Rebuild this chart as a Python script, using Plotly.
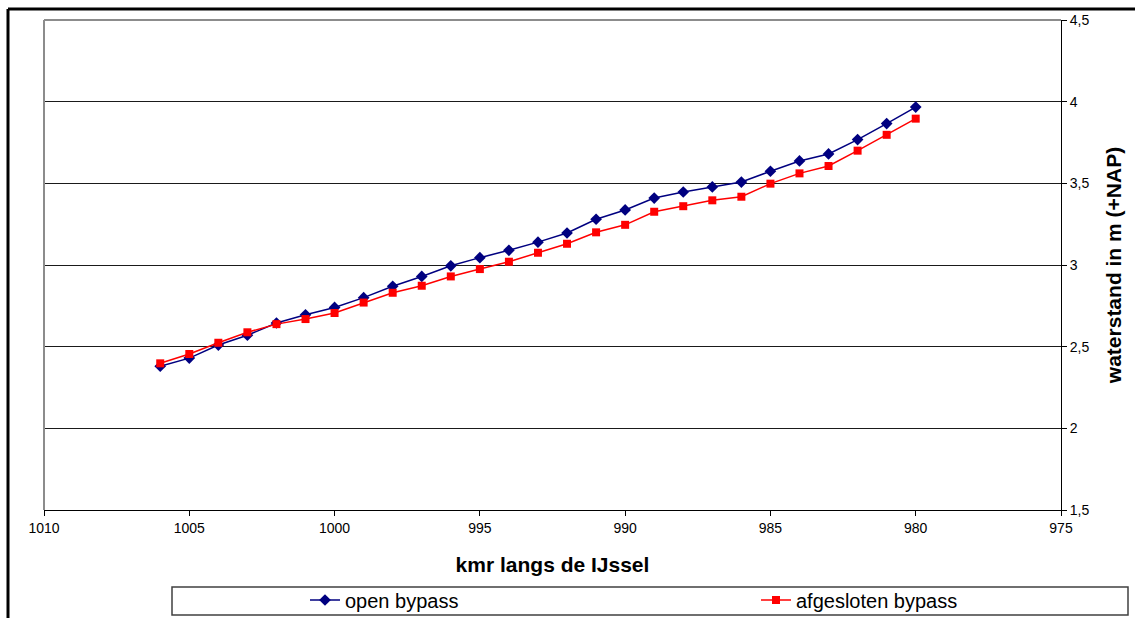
import plotly.graph_objects as go

# kilometre positions along the IJssel
km = [1006, 1005, 1004, 1003, 1002, 1001, 1000, 999, 998, 997, 996, 995, 994,
      993, 992, 991, 990, 989, 988, 987, 986, 985, 984, 983, 982, 981, 980]

open_bypass = [2.38, 2.43, 2.51, 2.57, 2.645, 2.695, 2.74, 2.80, 2.87, 2.93, 2.995,
               3.045, 3.09, 3.14, 3.196, 3.28, 3.337, 3.41, 3.447, 3.478, 3.508,
               3.574, 3.637, 3.68, 3.768, 3.866, 3.967]

afgesloten_bypass = [2.398, 2.455, 2.524, 2.588, 2.638, 2.669, 2.706, 2.77, 2.83,
                     2.873, 2.93, 2.975, 3.02, 3.075, 3.13, 3.20, 3.246, 3.326,
                     3.36, 3.396, 3.418, 3.498, 3.561, 3.606, 3.70, 3.797, 3.896]

x_ticks = [1010, 1005, 1000, 995, 990, 985, 980, 975]
y_ticks = [1.5, 2.0, 2.5, 3.0, 3.5, 4.0, 4.5]
y_tick_labels = ["1,5", "2", "2,5", "3", "3,5", "4", "4,5"]

FONT = "Arial, Liberation Sans, sans-serif"

fig = go.Figure()
fig.add_trace(go.Scatter(
    x=km, y=open_bypass, name="open bypass", mode="lines+markers",
    line=dict(color="#000080", width=1.5),
    marker=dict(symbol="diamond", size=9, color="#000080"),
    legendwidth=406,
))
fig.add_trace(go.Scatter(
    x=km, y=afgesloten_bypass, name="afgesloten bypass", mode="lines+markers",
    line=dict(color="#FF0000", width=1.5),
    marker=dict(symbol="square", size=8, color="#FF0000"),
    legendwidth=180,
))

W, H = 1135, 618
L, R, T, B = 44, 1061, 20, 510
pw, ph = R - L, B - T

def px(xp):
    return (xp - L) / pw

def py(yp):
    return (B - yp) / ph

shapes = [
    # plot area grey border (left + top)
    dict(type="line", xref="paper", yref="paper", x0=0, x1=1, y0=1, y1=1,
         line=dict(color="#8c8c8c", width=2), layer="above"),
    dict(type="line", xref="paper", yref="paper", x0=0, x1=0, y0=0, y1=1,
         line=dict(color="#8c8c8c", width=2), layer="above"),
    # outer chart frame (black)
    dict(type="line", xref="paper", yref="paper", x0=px(8), x1=px(1140),
         y0=py(9), y1=py(9), line=dict(color="black", width=3)),
    dict(type="line", xref="paper", yref="paper", x0=px(8), x1=px(8),
         y0=py(9), y1=py(625), line=dict(color="black", width=3)),
    # legend box
    dict(type="rect", xref="paper", yref="paper", x0=px(172), x1=px(1128),
         y0=py(615), y1=py(587), line=dict(color="#404040", width=1.5),
         fillcolor="white", layer="below"),
]

fig.update_layout(
    width=W, height=H,
    margin=dict(l=L, r=W - R, t=T, b=H - B, pad=0, autoexpand=False),
    paper_bgcolor="white", plot_bgcolor="white",
    font=dict(family=FONT, size=14, color="black"),
    showlegend=True,
    legend=dict(
        orientation="h",
        x=px(305), xanchor="left", y=py(600), yanchor="middle",
        bgcolor="rgba(0,0,0,0)", borderwidth=0,
        font=dict(family=FONT, size=20, color="black"),
        entrywidthmode="pixels", itemwidth=30,
    ),
    xaxis=dict(
        range=[1010, 975], tickvals=x_ticks, ticks="outside", ticklen=5,
        tickcolor="black", showline=True, linecolor="black", linewidth=1,
        showgrid=False, zeroline=False, tickfont=dict(size=14), automargin=False,
        title=dict(text="<b>kmr langs de IJssel</b>", font=dict(size=21),
                   standoff=22),
    ),
    yaxis=dict(
        range=[1.5, 4.5], side="right", tickvals=y_ticks, ticktext=y_tick_labels,
        ticks="outside", ticklen=5, tickcolor="black", showline=True,
        linecolor="black", linewidth=1, showgrid=True, gridcolor="#1a1a1a",
        gridwidth=1, zeroline=False, tickfont=dict(size=14), automargin=False,
        title=dict(text="<b>waterstand in m (+NAP)</b>", font=dict(size=21),
                   standoff=17),
    ),
    shapes=shapes,
)

fig.write_html(
    "out.html",
    config={"displayModeBar": False},
    post_script="document.body.style.margin='0';document.body.style.overflow='hidden';",
)
